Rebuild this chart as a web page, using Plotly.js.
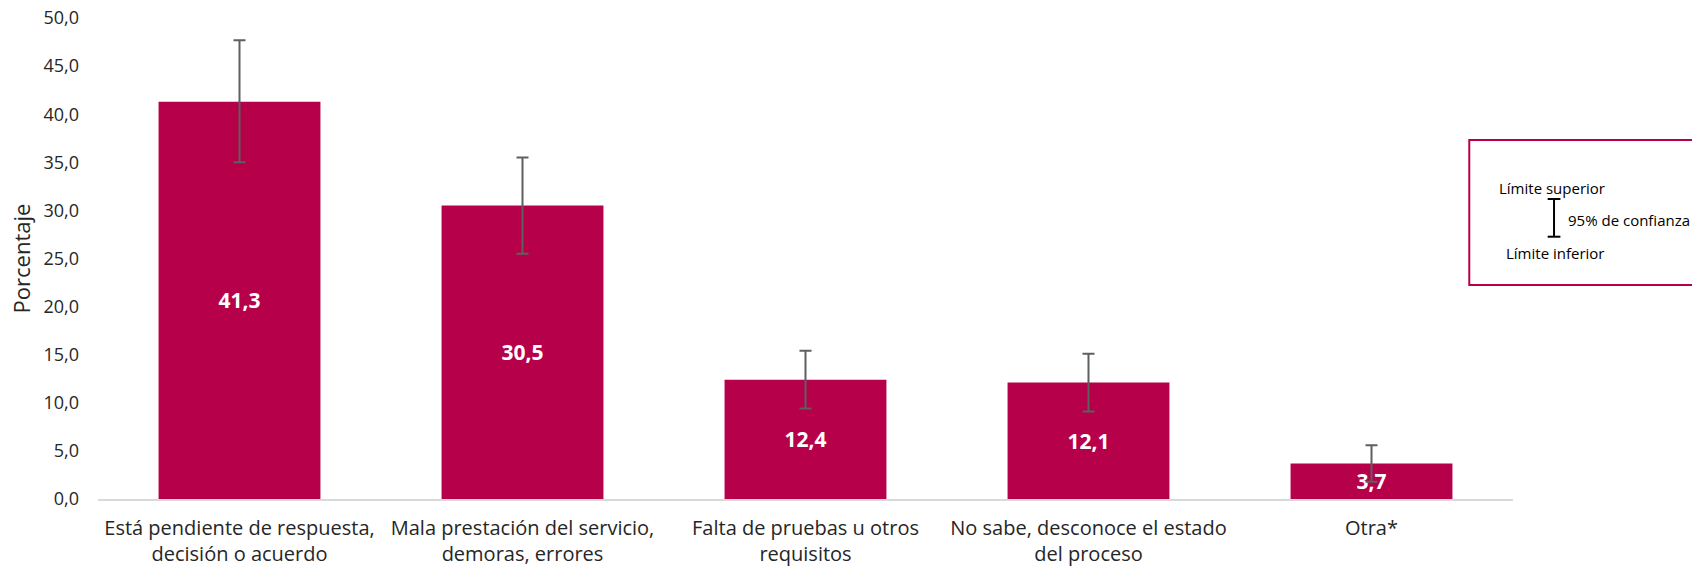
<!DOCTYPE html>
<html>
<head>
<meta charset="utf-8">
<script src="https://cdn.plot.ly/plotly-3.0.1.min.js"></script>
<style>html,body{margin:0;padding:0;background:#fff;}#chart{width:1692px;height:570px;}</style>
</head>
<body>
<div id="chart"></div>
<script>
const categories = [
  "Está pendiente de respuesta,<br>decisión o acuerdo",
  "Mala prestación del servicio,<br>demoras, errores",
  "Falta de pruebas u otros<br>requisitos",
  "No sabe, desconoce el estado<br>del proceso",
  "Otra*"
];
const values = [41.3, 30.5, 12.4, 12.1, 3.7];
const upperLimit = [47.7, 35.5, 15.4, 15.1, 5.6];
const lowerLimit = [35.0, 25.5, 9.4, 9.1, 1.8];
const yTicks = [0, 5, 10, 15, 20, 25, 30, 35, 40, 45, 50];

const barColor = "#B7004A";
const fontFam = "'Open Sans', 'Noto Sans', sans-serif";

const trace = {
  type: "bar",
  x: categories,
  y: values,
  marker: {color: barColor},
  text: values.map(v => v.toFixed(1).replace(".", ",")),
  textposition: "inside",
  insidetextanchor: "middle",
  constraintext: "none",
  textfont: {family: fontFam, size: 21, color: "#ffffff", weight: "bold"},
  error_y: {
    type: "data",
    symmetric: false,
    array: upperLimit.map((u, i) => +(u - values[i]).toFixed(2)),
    arrayminus: lowerLimit.map((l, i) => +(values[i] - l).toFixed(2)),
    color: "#5f5f5f",
    thickness: 2,
    width: 6
  },
  hoverinfo: "skip"
};

// legend box geometry in paper coords
const bx0 = 0.9691, bx1 = 1.14, by0 = 0.4449, by1 = 0.7464;
const iconX = 1.029, iconTop = 0.6237, iconBot = 0.5453, capHalf = 0.0045;

const layout = {
  width: 1692,
  height: 570,
  margin: {l: 98, r: 179, t: 18, b: 71},
  paper_bgcolor: "#ffffff",
  plot_bgcolor: "#ffffff",
  separators: ",.",
  bargap: 0.428,
  showlegend: false,
  font: {family: fontFam, color: "#262626", size: 18},
  xaxis: {
    showgrid: false,
    zeroline: false,
    showline: true,
    linecolor: "#d9d9d9",
    linewidth: 2,
    ticks: "",
    tickfont: {family: fontFam, size: 20, color: "#262626"},
    ticklabelstandoff: 10,
    fixedrange: true
  },
  yaxis: {
    range: [0, 50],
    tickvals: yTicks,
    tickformat: ".1f",
    showgrid: false,
    zeroline: false,
    showline: false,
    ticks: "",
    ticklabelstandoff: 18,
    tickfont: {family: fontFam, size: 18, color: "#262626"},
    title: {text: "Porcentaje", font: {family: fontFam, size: 22, color: "#262626"}, standoff: 6},
    fixedrange: true
  },
  shapes: [
    {type: "rect", xref: "paper", yref: "paper", x0: bx0, x1: bx1, y0: by0, y1: by1,
     line: {color: barColor, width: 2}, fillcolor: "rgba(0,0,0,0)"},
    {type: "line", xref: "paper", yref: "paper", x0: iconX, x1: iconX, y0: iconBot, y1: iconTop,
     line: {color: "#000", width: 2}},
    {type: "line", xref: "paper", yref: "paper", x0: iconX - capHalf, x1: iconX + capHalf, y0: iconTop, y1: iconTop,
     line: {color: "#000", width: 2}},
    {type: "line", xref: "paper", yref: "paper", x0: iconX - capHalf, x1: iconX + capHalf, y0: iconBot, y1: iconBot,
     line: {color: "#000", width: 2}}
  ],
  annotations: [
    {xref: "paper", yref: "paper", x: 1.0274, y: 0.6466, text: "Límite superior", showarrow: false,
     xanchor: "center", yanchor: "middle", font: {family: fontFam, size: 15, color: "#000"}},
    {xref: "paper", yref: "paper", x: 1.0295, y: 0.512, text: "Límite inferior", showarrow: false,
     xanchor: "center", yanchor: "middle", font: {family: fontFam, size: 15, color: "#000"}},
    {xref: "paper", yref: "paper", x: 1.0375, y: 0.580, text: "95% de confianza", showarrow: false,
     xanchor: "left", yanchor: "middle", font: {family: fontFam, size: 15, color: "#000"}}
  ]
};

Plotly.newPlot("chart", [trace], layout, {staticPlot: true, displayModeBar: false});
</script>
</body>
</html>
